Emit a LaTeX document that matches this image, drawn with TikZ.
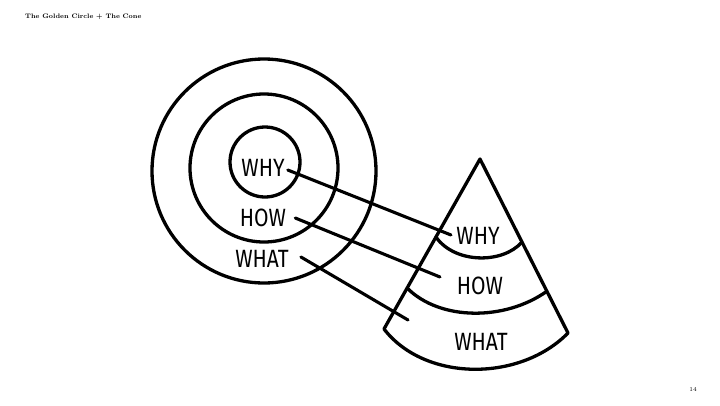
\documentclass[tikz,border=0pt]{standalone}
\usepackage{fontspec}
\usepackage{tikz}
\usetikzlibrary{calc}
\newfontfamily\handfont[FakeStretch=0.84]{Fira Sans}

\begin{document}
\begin{tikzpicture}[
  x=1pt, y=-1pt,
  every node/.style={inner sep=0pt},
  ring/.style={draw, circle, line width=3.3pt},
  word/.style={font=\handfont\fontsize{25}{25}\selectfont},
  link/.style={line width=3.1pt, line cap=round},
  edge/.style={line width=3.3pt, line join=round, line cap=round}
]
\useasboundingbox (0,0) rectangle (720,405);

\node[anchor=west, font=\fontsize{6.5}{7}\selectfont\bfseries] (title) at (25,17) {The Golden Circle + The Cone};
\node[font=\fontsize{6}{7}\selectfont] (page) at (693,389) {14};

% golden circle
\node[ring, minimum size=224pt] (outer)  at (264,171) {};
\node[ring, minimum size=148pt] (middle) at (264,168) {};
\node[ring, minimum size=70pt]  (inner)  at (265,162) {};

\node[word] (whyc)  at (263,168) {WHY};
\node[word] (howc)  at (263,218) {HOW};
\node[word] (whatc) at (262,259) {WHAT};

% cone
\coordinate (apex) at (480,159);
\coordinate (bl) at (384,329);
\coordinate (br) at (568,333);
\draw[edge] (bl) -- (apex) -- (br) .. controls (520,382) and (425,382) .. (bl);
\draw[edge] ($(apex)!0.459!(bl)$) .. controls (455,264) and (503,264) .. ($(apex)!0.477!(br)$);
\draw[edge] ($(apex)!0.759!(bl)$) .. controls (440,321) and (505,321) .. ($(apex)!0.76!(br)$);

\node[word] (whyk)  at (478,236) {WHY};
\node[word] (howk)  at (480,286) {HOW};
\node[word] (whatk) at (481,342) {WHAT};

\coordinate (whyend)  at (451,235);
\coordinate (howend)  at (440,277);
\coordinate (whatend) at (408,320);
\draw[link] ([xshift=3pt,yshift=-2pt]whyc.east) -- (whyend);
\draw[link] ([xshift=9pt]howc.east) -- (howend);
\draw[link] ([xshift=12pt,yshift=2pt]whatc.east) -- (whatend);
\end{tikzpicture}
\end{document}
